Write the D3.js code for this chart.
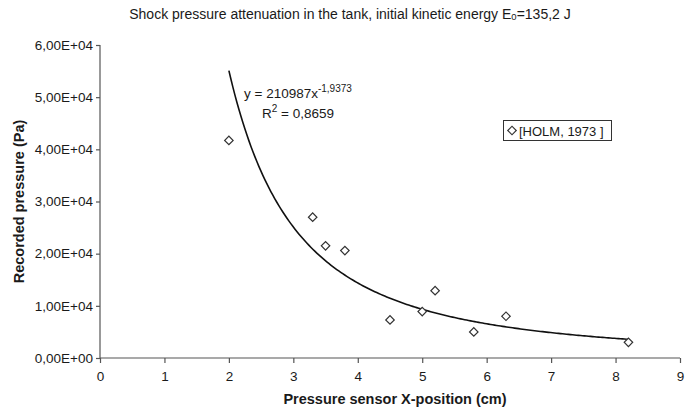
<!DOCTYPE html>
<html>
<head>
<meta charset="utf-8">
<script src="https://cdn.jsdelivr.net/npm/d3@7"></script>
<style>
  html, body { margin: 0; padding: 0; background: #fff; }
  svg { display: block; font-family: "Liberation Sans", Arial, sans-serif; }
</style>
</head>
<body>
<svg id="chart" width="696" height="414"></svg>
<script>
// Measured pressures at each sensor position
const positions = [2.0, 3.3, 3.5, 3.8, 4.5, 5.0, 5.2, 5.8, 6.3, 8.2];
const pressures = [41700, 27000, 21500, 20600, 7300, 8900, 12900, 5000, 8000, 3000];

// Power-law trend line y = a * x^b
const fitA = 210987;
const fitB = -1.9373;
const fitR2 = "0,8659";
const fitRange = [2.0, 8.2];

const xTicks = [0, 1, 2, 3, 4, 5, 6, 7, 8, 9];
const yTicks = [0, 10000, 20000, 30000, 40000, 50000, 60000];
const yTickLabels = ["0,00E+00", "1,00E+04", "2,00E+04", "3,00E+04", "4,00E+04", "5,00E+04", "6,00E+04"];

const titleMain = "Shock pressure attenuation in the tank, initial kinetic energy E";
const titleSub = "0";
const titleEnd = "=135,2 J";
const xTitle = "Pressure sensor X-position (cm)";
const yTitle = "Recorded pressure (Pa)";
const legendLabel = "[HOLM, 1973 ]";

const svg = d3.select("#chart");
const plot = { left: 100, right: 680, top: 45, bottom: 358 };

const x = d3.scaleLinear().domain([0, 9]).range([plot.left, plot.right]);
const y = d3.scaleLinear().domain([0, 60000]).range([plot.bottom, plot.top]);

const axisColor = "#555";
const textColor = "#1a1a1a";
const fontFamily = "Liberation Sans, Arial, sans-serif";

// Title
const title = svg.append("text")
  .attr("x", 350).attr("y", 19)
  .attr("text-anchor", "middle")
  .attr("font-size", 14)
  .attr("fill", textColor);
title.append("tspan").text(titleMain);
title.append("tspan").attr("font-size", 9.5).attr("dy", 1).text(titleSub);
title.append("tspan").attr("dy", -1).text(titleEnd);

// Y axis
const yAxis = d3.axisLeft(y)
  .tickValues(yTicks)
  .tickSize(4)
  .tickPadding(3)
  .tickFormat((d, i) => yTickLabels[i]);
const gy = svg.append("g")
  .attr("transform", `translate(${plot.left},0)`)
  .call(yAxis);
gy.select(".domain").attr("stroke", axisColor).attr("stroke-width", 1.2)
  .attr("d", `M0,${plot.top}V${plot.bottom}`);
gy.selectAll(".tick line").attr("stroke", axisColor).attr("stroke-width", 1.2);
gy.selectAll(".tick text").attr("font-size", 13.5).attr("fill", textColor)
  .attr("font-family", fontFamily);

// X axis
const xAxis = d3.axisBottom(x)
  .tickValues(xTicks)
  .tickSize(5)
  .tickPadding(8)
  .tickFormat(d3.format("d"));
const gx = svg.append("g")
  .attr("transform", `translate(0,${plot.bottom})`)
  .call(xAxis);
gx.select(".domain").attr("stroke", axisColor).attr("stroke-width", 1.2)
  .attr("d", `M${plot.left},0H${plot.right}`);
gx.selectAll(".tick line").attr("stroke", axisColor).attr("stroke-width", 1.2);
gx.selectAll(".tick text").attr("font-size", 13.5).attr("fill", textColor)
  .attr("font-family", fontFamily);

// Axis titles
svg.append("text")
  .attr("x", 395).attr("y", 404)
  .attr("text-anchor", "middle")
  .attr("font-size", 14.5).attr("font-weight", "bold")
  .attr("fill", textColor)
  .text(xTitle);

svg.append("text")
  .attr("transform", `translate(24,${(plot.top + plot.bottom) / 2}) rotate(-90)`)
  .attr("text-anchor", "middle")
  .attr("font-size", 14.5).attr("font-weight", "bold")
  .attr("fill", textColor)
  .text(yTitle);

// Trend curve
const curvePts = d3.range(0, 201).map(i => {
  const xv = fitRange[0] + (fitRange[1] - fitRange[0]) * i / 200;
  return [xv, fitA * Math.pow(xv, fitB)];
});
svg.append("path")
  .datum(curvePts)
  .attr("fill", "none")
  .attr("stroke", "#111")
  .attr("stroke-width", 1.6)
  .attr("d", d3.line().x(d => x(d[0])).y(d => y(d[1])));

// Data markers (open diamonds)
const diamond = d3.symbol().type(d3.symbolSquare).size(36);
svg.append("g").selectAll("path")
  .data(positions.map((p, i) => [p, pressures[i]]))
  .join("path")
  .attr("d", diamond)
  .attr("transform", d => `translate(${x(d[0])},${y(d[1])}) rotate(45)`)
  .attr("fill", "#fff")
  .attr("stroke", "#333")
  .attr("stroke-width", 1.2);

// Fit equation and R²
const eq = svg.append("text")
  .attr("x", 244).attr("y", 98)
  .attr("font-size", 13.5)
  .attr("fill", textColor);
eq.append("tspan").text("y = " + fitA + "x");
eq.append("tspan").attr("font-size", 10).attr("dy", -6)
  .text(String(fitB).replace(".", ","));

const r2 = svg.append("text")
  .attr("x", 262).attr("y", 118)
  .attr("font-size", 13.5)
  .attr("fill", textColor);
r2.append("tspan").text("R");
r2.append("tspan").attr("font-size", 10).attr("dy", -6).text("2");
r2.append("tspan").attr("dy", 6).text(" = " + fitR2);

// Legend
const lg = svg.append("g");
lg.append("rect")
  .attr("x", 503.5).attr("y", 120.5)
  .attr("width", 108).attr("height", 20)
  .attr("fill", "#fff")
  .attr("stroke", "#333").attr("stroke-width", 1);
lg.append("path")
  .attr("d", diamond)
  .attr("transform", "translate(512,130.5) rotate(45)")
  .attr("fill", "#fff").attr("stroke", "#333").attr("stroke-width", 1.2);
lg.append("text")
  .attr("x", 519).attr("y", 135.5)
  .attr("font-size", 13)
  .attr("fill", textColor)
  .text(legendLabel);
</script>
</body>
</html>
